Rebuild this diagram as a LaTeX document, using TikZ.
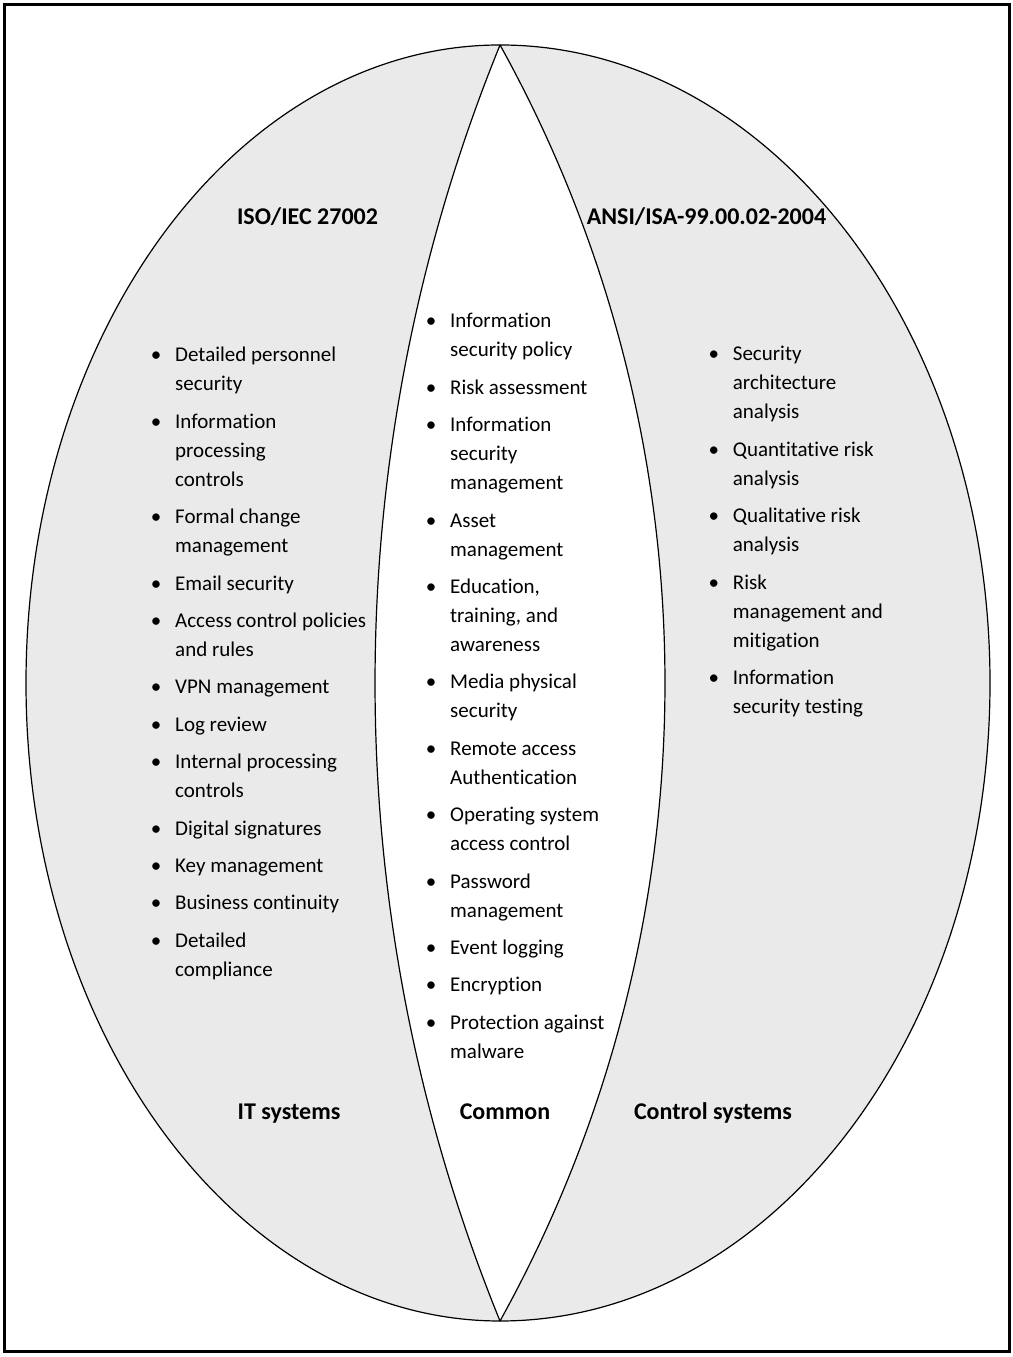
\documentclass[tikz,border=0pt]{standalone}
\usepackage{fontspec}
\setmainfont{Carlito}[RawFeature={-liga;-clig;-dlig;-calt}]
\definecolor{regiongray}{HTML}{EAEAEA}
\newcommand{\Bu}{\makebox[25pt][l]{\hspace{1pt}\makebox[10pt]{•}}}
\newcommand{\Nb}{\hspace*{25pt}}
\newcommand{\gap}{\\[8.4pt]}
\begin{document}
\begin{tikzpicture}[x=1pt,y=1pt,
  region/.style={fill=regiongray, draw=black, line width=1.2pt, line join=round},
  lst/.style={anchor=base west, inner sep=0pt, font=\fontsize{21}{29}\selectfont},
  ttl/.style={anchor=base, inner sep=0pt, font=\fontsize{24}{29}\selectfont\bfseries}]
\useasboundingbox (0,0) rectangle (1012,1357);
\fill[white] (0,0) rectangle (1012,1357);
\draw[line width=3pt] (4,5) rectangle (1009,1352);
% left region (IT systems)
\draw[region] (500,1312) arc[start angle=90, end angle=270, x radius=474, y radius=638]
  arc[start angle=202.17, end angle=157.83, radius=1690.7] -- cycle;
% right region (Control systems)
\draw[region] (500,1312) arc[start angle=90, end angle=-90, x radius=490, y radius=638]
  arc[start angle=-29.0, end angle=29.0, radius=1316.0] -- cycle;

\node[ttl] (isotitle) at (307.5,1132) {ISO/IEC 27002};
\node[ttl] (ansititle) at (706.5,1132) {ANSI/ISA-99.00.02-2004};

\node[ttl] (itlabel) at (289,237) {IT systems};
\node[ttl] (commonlabel) at (505,237) {Common};
\node[ttl] (ctrllabel) at (713,237) {Control systems};

\node[lst] (itlist) at (150,995) {\begin{tabular}[t]{@{}l@{}l@{}}
\Bu & Detailed personnel\\ \Nb & security\gap
\Bu & Information\\ \Nb & processing\\ \Nb & controls\gap
\Bu & Formal change\\ \Nb & management\gap
\Bu & Email security\gap
\Bu & Access control policies\\ \Nb & and rules\gap
\Bu & VPN management\gap
\Bu & Log review\gap
\Bu & Internal processing\\ \Nb & controls\gap
\Bu & Digital signatures\gap
\Bu & Key management\gap
\Bu & Business continuity\gap
\Bu & Detailed\\ \Nb & compliance
\end{tabular}};

\node[lst] (commonlist) at (425,1029) {\begin{tabular}[t]{@{}l@{}l@{}}
\Bu & Information\\ \Nb & security policy\gap
\Bu & Risk assessment\gap
\Bu & Information\\ \Nb & security\\ \Nb & management\gap
\Bu & Asset\\ \Nb & management\gap
\Bu & Education,\\ \Nb & training, and\\ \Nb & awareness\gap
\Bu & Media physical\\ \Nb & security\gap
\Bu & Remote access\\ \Nb & Authentication\gap
\Bu & Operating system\\ \Nb & access control\gap
\Bu & Password\\ \Nb & management\gap
\Bu & Event logging\gap
\Bu & Encryption\gap
\Bu & Protection against\\ \Nb & malware
\end{tabular}};

\node[lst] (ctrllist) at (707.7,996) {\begin{tabular}[t]{@{}l@{}l@{}}
\Bu & Security\\ \Nb & architecture\\ \Nb & analysis\gap
\Bu & Quantitative risk\\ \Nb & analysis\gap
\Bu & Qualitative risk\\ \Nb & analysis\gap
\Bu & Risk\\ \Nb & management and\\ \Nb & mitigation\gap
\Bu & Information\\ \Nb & security testing
\end{tabular}};
\end{tikzpicture}
\end{document}
